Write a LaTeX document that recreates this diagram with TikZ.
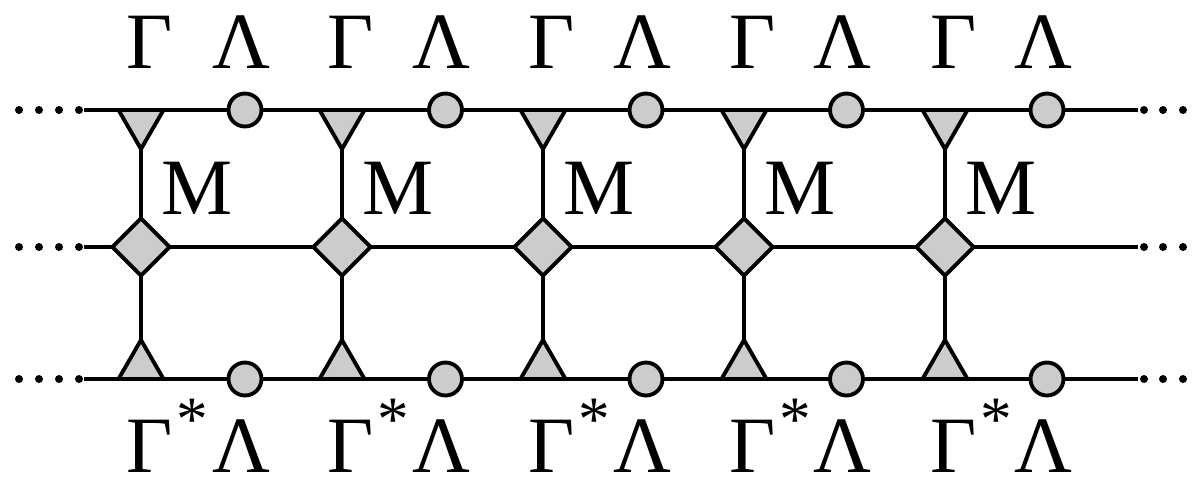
\documentclass[tikz,border=0pt]{standalone}
\usepackage{fontspec}
\setmainfont{Liberation Serif}
\usetikzlibrary{shapes.geometric,backgrounds}
\definecolor{tgray}{RGB}{204,204,204}
\begin{document}
\begin{tikzpicture}[x=0.02cm,y=-0.02cm,
  link/.style={line width=2.2pt},
  site/.style={circle,draw,fill=tgray,line width=2.2pt,minimum size=0.66cm,inner sep=0pt},
  tdown/.style={regular polygon,regular polygon sides=3,shape border rotate=180,
    draw,fill=tgray,line width=2.2pt,minimum size=1.04cm,inner sep=0pt,line join=miter},
  tup/.style={regular polygon,regular polygon sides=3,
    draw,fill=tgray,line width=2.2pt,minimum size=1.04cm,inner sep=0pt,line join=miter},
  mtx/.style={diamond,draw,fill=tgray,line width=2.2pt,minimum width=1.18cm,
    minimum height=1.18cm,inner sep=0pt,line join=miter},
  glyph/.style={font=\fontsize{45.5}{50}\selectfont,inner sep=0pt,anchor=base},
  star/.style={font=\fontsize{36}{38}\selectfont,inner sep=0pt,anchor=base},
  dot/.style={circle,fill=black,inner sep=0pt,minimum size=0.16cm}]
\useasboundingbox (0,0) rectangle (1198,478);

% row heights
\def\ya{110}\def\yb{247}\def\yc{379}

% ends of the three horizontal bonds and the trailing dots
\foreach \r/\y in {a/\ya,b/\yb,c/\yc}{
  \coordinate (l\r) at (84,\y);
  \coordinate (r\r) at (1138,\y);
  \foreach \k/\x in {1/19,2/39,3/59,4/79}{\node[dot] (ld\r\k) at (\x,\y) {};}
  \foreach \k/\x in {1/1144,2/1163,3/1183}{\node[dot] (rd\r\k) at (\x,\y) {};}
}

% unit cells
\foreach \i [evaluate=\i as \cx using {141+201*(\i-1)},
             evaluate=\i as \sx using {245+200.5*(\i-1)}] in {1,...,5}{
  \node[tdown] (t\i) at (\cx,123) {};
  \node[tup]   (b\i) at (\cx,366) {};
  \node[mtx]   (d\i) at (\cx,\yb) {};
  \node[site]  (s\i) at (\sx,\ya) {};
  \node[site]  (u\i) at (\sx,\yc) {};
  \node[glyph] (G\i) at (\cx+9,68) {Γ};
  \node[glyph] (L\i) at (\sx-4,68) {Λ};
  \node[glyph] (M\i) at (\cx+56.5,214) {M};
  \node[glyph] (g\i) at (\cx+9,472) {Γ};
  \node[star]  (a\i) at (\cx+51.5,440) {*};
  \node[glyph] (k\i) at (\sx-4,472) {Λ};
}

\begin{pgfonlayer}{background}
  \draw[link] (la) foreach \i in {1,...,5}{-- (s\i.center)} -- (ra);
  \draw[link] (lb) foreach \i in {1,...,5}{-- (d\i.center)} -- (rb);
  \draw[link] (lc) foreach \i in {1,...,5}{-- (u\i.center)} -- (rc);
  \foreach \i in {1,...,5}{
    \draw[link] (t\i.center) -- (d\i.center) -- (b\i.center);
  }
\end{pgfonlayer}
\end{tikzpicture}
\end{document}
